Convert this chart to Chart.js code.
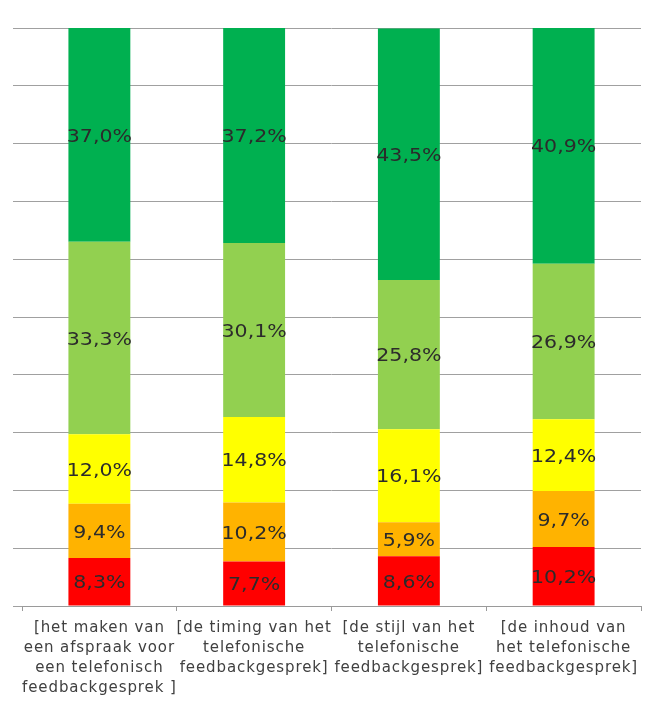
<!DOCTYPE html>
<html><head><meta charset="utf-8">
<script src="https://cdn.jsdelivr.net/npm/chart.js@4"></script>
<style>html,body{margin:0;padding:0;background:#fff;}#wrap{width:650px;height:726px;}</style>
</head><body><div id="wrap"><canvas id="c" width="650" height="726"></canvas></div>
<script>
const categories = [
  ["[het maken van", "een afspraak voor", "een telefonisch", "feedbackgesprek ]"],
  ["[de timing van het", "telefonische", "feedbackgesprek]"],
  ["[de stijl van het", "telefonische", "feedbackgesprek]"],
  ["[de inhoud van", "het telefonische", "feedbackgesprek]"]
];
const seriesNames = ["1", "2", "3", "4", "5"];
const seriesColors = ["#FF0000", "#FFB300", "#FFFF00", "#92D050", "#00B050"];
const s1 = [8.3, 7.7, 8.6, 10.2];
const s2 = [9.4, 10.2, 5.9, 9.7];
const s3 = [12.0, 14.8, 16.1, 12.4];
const s4 = [33.3, 30.1, 25.8, 26.9];
const s5 = [37.0, 37.2, 43.5, 40.9];
const seriesValues = [s1, s2, s3, s4, s5];
const yTicks = [0,10,20,30,40,50,60,70,80,90,100];

const spacingPlugin = {
  id: 'spacing',
  beforeDraw(chart) { chart.ctx.letterSpacing = '0.9px'; },
  afterDraw(chart) { chart.ctx.letterSpacing = '0px'; }
};

const labelPlugin = {
  id: 'segLabels',
  afterDatasetsDraw(chart) {
    const ctx = chart.ctx;
    ctx.save();
    ctx.letterSpacing = '0px';
    ctx.font = '18px "DejaVu Sans"';
    ctx.fillStyle = '#2b2b2b';
    ctx.textAlign = 'center';
    ctx.textBaseline = 'middle';
    chart.data.datasets.forEach((ds, i) => {
      const meta = chart.getDatasetMeta(i);
      meta.data.forEach((bar, j) => {
        const v = ds.data[j];
        const y = (bar.y + bar.base) / 2 + 2;
        const txt = v.toFixed(1).replace('.', ',') + '%';
        ctx.save();
        ctx.translate(bar.x, y);
        ctx.scale(1.14, 1);
        ctx.fillText(txt, 0, 0);
        ctx.restore();
      });
    });
    ctx.restore();
  }
};

new Chart(document.getElementById('c'), {
  type: 'bar',
  data: {
    labels: categories,
    datasets: seriesValues.map((vals, i) => ({
      label: seriesNames[i],
      data: vals,
      backgroundColor: seriesColors[i],
      borderWidth: 0,
      barPercentage: 0.4,
      categoryPercentage: 1.0
    }))
  },
  options: {
    responsive: false,
    animation: false,
    layout: { padding: { left: 13, right: 9, top: 28, bottom: 0 } },
    plugins: { legend: { display: false }, tooltip: { enabled: false }, title: { display: false } },
    scales: {
      x: {
        stacked: true,
        grid: { display: true, drawOnChartArea: false, drawTicks: true, tickLength: 5, color: '#9a9a9a', offset: true },
        border: { display: true, color: '#9a9a9a', width: 1 },
        ticks: { color: '#404040', font: { family: '"DejaVu Sans"', size: 15, lineHeight: 1.33 }, padding: 7, maxRotation: 0, autoSkip: false },
        afterFit(scale) { scale.height = 120; }
      },
      y: {
        stacked: true,
        min: 0, max: 100,
        afterBuildTicks(scale) { scale.ticks = yTicks.map(v => ({ value: v })); },
        grid: { display: true, drawTicks: true, tickLength: 9, color: '#a0a0a0', lineWidth: 1 },
        border: { display: false },
        ticks: { display: false },
        afterFit(scale) { scale.width = 9; }
      }
    }
  },
  plugins: [spacingPlugin, labelPlugin]
});
</script></body></html>
